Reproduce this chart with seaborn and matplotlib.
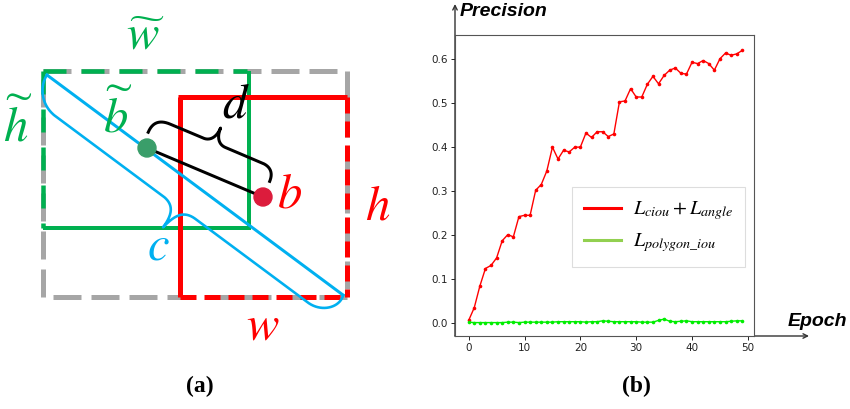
import numpy as np
import pandas as pd
import matplotlib
matplotlib.use("Agg")
import matplotlib.pyplot as plt
from matplotlib.lines import Line2D
import seaborn as sns

# ---------------- data (panel b) ----------------
epochs = list(range(50))
prec_ciou_angle = [0.005, 0.034, 0.083, 0.123, 0.130, 0.147, 0.186, 0.200, 0.195, 0.241,
                   0.244, 0.244, 0.301, 0.314, 0.345, 0.399, 0.372, 0.392, 0.388, 0.399,
                   0.399, 0.431, 0.421, 0.434, 0.434, 0.423, 0.429, 0.502, 0.504, 0.532,
                   0.513, 0.513, 0.542, 0.560, 0.543, 0.562, 0.574, 0.579, 0.567, 0.565,
                   0.592, 0.589, 0.596, 0.589, 0.574, 0.600, 0.613, 0.608, 0.611, 0.619]
prec_polygon_iou = [0.001, 0.000, 0.000, 0.000, 0.000, 0.000, 0.000, 0.001, 0.001, 0.000,
                    0.001, 0.001, 0.001, 0.001, 0.001, 0.001, 0.002, 0.002, 0.002, 0.002,
                    0.002, 0.001, 0.002, 0.002, 0.004, 0.003, 0.002, 0.002, 0.002, 0.002,
                    0.002, 0.001, 0.001, 0.001, 0.005, 0.008, 0.003, 0.002, 0.003, 0.004,
                    0.002, 0.002, 0.002, 0.002, 0.002, 0.002, 0.002, 0.003, 0.004, 0.004]
series_labels = [r"$L_{ciou}+L_{angle}$", r"$L_{polygon\_iou}$"]
x_ticks = [0, 10, 20, 30, 40, 50]
y_ticks = [0.0, 0.1, 0.2, 0.3, 0.4, 0.5, 0.6]

plt.rcParams["mathtext.fontset"] = "stix"
plt.rcParams["lines.scale_dashes"] = False

W, H = 850, 409
fig = plt.figure(figsize=(W / 100, H / 100), dpi=100)

# ---------------- panel (a): diagram in pixel coordinates ----------------
dax = fig.add_axes([0, 0, 1, 1])
dax.set_xlim(0, W)
dax.set_ylim(H, 0)
dax.axis("off")

GREEN = "#00b050"
RED = "#ff0000"
GRAY = "#a6a6a6"
BLUE = "#00b0f0"
px = 0.72  # px -> pt


def seg(p, q, color, lw, dash=None, z=2):
    ls = "-" if dash is None else (0, (dash[0] * px, dash[1] * px))
    dax.plot([p[0], q[0]], [p[1], q[1]], color=color, lw=lw * px, ls=ls,
             solid_capstyle="butt", dash_capstyle="butt", zorder=z)


# gray enclosing box
gx0, gy0, gx1, gy1 = 43, 71, 347, 297
for p, q in [((gx0, gy0), (gx1, gy0)), ((gx1, gy0), (gx1, gy1)),
             ((gx1, gy1), (gx0, gy1)), ((gx0, gy1), (gx0, gy0))]:
    seg(p, q, GRAY, 5, dash=(28, 10), z=1)

# green box
bx0, by0, bx1, by1 = 43, 71, 247, 228
seg((bx0, by0), (bx1, by0), GREEN, 4.5, dash=(23, 15), z=2)
seg((bx0, by0), (bx0, by1), GREEN, 4.5, dash=(23, 15), z=2)
seg((bx1 + 2, by0), (bx1 + 2, by1 + 2), GREEN, 4, z=2)
seg((bx0, by1), (bx1 + 4, by1), GREEN, 4, z=2)

# red box
rx0, ry0, rx1, ry1 = 180, 97, 347, 297
seg((rx0 - 2, ry0), (rx1, ry0), RED, 5, z=2)
seg((rx0, ry0), (rx0, ry1), RED, 5, z=2)
seg((rx1, ry0), (rx1, ry1), RED, 5, dash=(16, 8), z=2)
seg((rx0, ry1), (rx1, ry1), RED, 5, dash=(16, 8), z=2)


def bez(p0, p1, p2, p3, n=40):
    t = np.linspace(0, 1, n)[:, None]
    p0, p1, p2, p3 = map(np.asarray, (p0, p1, p2, p3))
    return (1 - t) ** 3 * p0 + 3 * (1 - t) ** 2 * t * p1 + 3 * (1 - t) * t ** 2 * p2 + t ** 3 * p3


def to_px(st, origin, u, n):
    st = np.asarray(st, float)
    return origin + st[:, :1] * u + st[:, 1:] * n


# blue diagonal + brace c
A = np.array([47.0, 75.0])
B = np.array([343.0, 295.0])
u = (B - A) / np.linalg.norm(B - A)
nrm = np.array([-u[1], u[0]])
dax.plot([A[0], B[0]], [A[1], B[1]], color=BLUE, lw=3 * px, zorder=3)
bst = np.vstack([
    bez((0, 0), (0, 10), (10, 27), (30, 28)),
    [(165, 28)],
    bez((165, 28), (180, 28), (184, 38), (184, 53)),
    bez((184, 53), (186, 37), (190, 27), (205, 27)),
    [(345, 27)],
    bez((345, 27), (362, 27), (374, 12), (369, 0)),
])
bp = to_px(bst, A, u, nrm)
dax.plot(bp[:, 0], bp[:, 1], color=BLUE, lw=2.6 * px, zorder=3)

# centre points, distance line and brace d
G = np.array([147.0, 148.0])
R = np.array([263.0, 197.0])
dax.plot([G[0], R[0]], [G[1], R[1]], color="black", lw=3 * px, zorder=4)
u2 = (R - G) / np.linalg.norm(R - G)
n2 = np.array([u2[1], -u2[0]])
dst = np.vstack([
    bez((-5, 15), (-5, 27), (2, 31), (12, 31)),
    [(48, 31)],
    bez((48, 31), (56, 31), (60, 38), (60, 47)),
    bez((60, 47), (60, 38), (64, 31), (72, 31)),
    [(112, 31)],
    bez((112, 31), (122, 31), (126, 25), (126, 17)),
])
dp = to_px(dst, G, u2, n2)
dax.plot(dp[:, 0], dp[:, 1], color="black", lw=3 * px, zorder=4)
dax.add_patch(plt.Circle(G, 9, color="#3a9e6a", zorder=5))
dax.add_patch(plt.Circle(R, 9, color="#dc1c3c", zorder=5))

# diagram labels
lab = dict(ha="center", va="center")
fs = 35
dax.text(145, 36, r"$\widetilde{w}$", color=GREEN, fontsize=fs, **lab)
dax.text(18, 126, r"$\widetilde{h}$", color=GREEN, fontsize=fs, **lab)
dax.text(118, 117, r"$\widetilde{b}$", color=GREEN, fontsize=fs, **lab)
dax.text(236, 104, r"$d$", color="black", fontsize=fs, **lab)
dax.text(290, 194, r"$b$", color=RED, fontsize=fs, **lab)
dax.text(378, 205, r"$h$", color=RED, fontsize=fs, **lab)
dax.text(158, 246, r"$c$", color=BLUE, fontsize=fs, **lab)
dax.text(263, 325, r"$w$", color=RED, fontsize=fs, **lab)
dax.text(200, 386, "(a)", fontsize=17, fontweight="bold", family="Liberation Serif", **lab)
dax.text(636, 386, "(b)", fontsize=17, fontweight="bold", family="Liberation Serif", **lab)

# axis arrows and titles for panel (b)
axL, axR, axT, axB = 455, 754, 35, 336
arr = dict(arrowstyle="->", lw=1.0, color="#333333", shrinkA=0, shrinkB=0,
           mutation_scale=8)
dax.annotate("", xy=(axL, 4), xytext=(axL, axB), arrowprops=arr, zorder=6)
dax.annotate("", xy=(809, axB), xytext=(axL, axB), arrowprops=arr, zorder=6)
dax.text(460, 11, "Precision", fontsize=14, fontweight="bold", fontstyle="italic",
         family="Liberation Sans", ha="left", va="center")
dax.text(788, 322, "Epoch", fontsize=14, fontweight="bold", fontstyle="italic",
         family="Liberation Sans", ha="left", va="center")

# ---------------- panel (b): chart ----------------
ax = fig.add_axes([axL / W, 1 - axB / H, (axR - axL) / W, (axB - axT) / H])
df = pd.DataFrame({"epoch": epochs, "a": prec_ciou_angle, "b": prec_polygon_iou})
sns.lineplot(data=df, x="epoch", y="a", ax=ax, color="#ff0000", lw=1.0,
             marker="o", markersize=2.6, markeredgecolor="#ff0000",
             markeredgewidth=0, legend=False)
sns.lineplot(data=df, x="epoch", y="b", ax=ax, color="#00ee00", lw=1.0,
             marker="o", markersize=2.6, markeredgecolor="#00ee00",
             markeredgewidth=0, legend=False)
ax.set_xlim(-2.45, 51.1)
ax.set_ylim(-0.0305, 0.654)
ax.set_xticks(x_ticks)
ax.set_yticks(y_ticks)
ax.set_yticklabels([f"{v:.1f}" for v in y_ticks])
ax.set_xlabel("")
ax.set_ylabel("")
ax.tick_params(labelsize=7.5, length=3, width=0.7, colors="#222222", pad=2)
for s in ax.spines.values():
    s.set_color("#555555")
    s.set_linewidth(0.8)

handles = [Line2D([], [], color="#ff0000", lw=2.2),
           Line2D([], [], color="#92d050", lw=2.2)]
leg = ax.legend(handles, series_labels, loc="upper left",
                bbox_to_anchor=(0.391, 0.495), borderaxespad=0, fontsize=14.5,
                frameon=True, fancybox=False, framealpha=1, edgecolor="#dddddd",
                handlelength=1.8, handletextpad=0.6, labelspacing=0.45,
                borderpad=0.62)
leg.get_frame().set_linewidth(0.8)

fig.savefig("out.png", dpi=100)
